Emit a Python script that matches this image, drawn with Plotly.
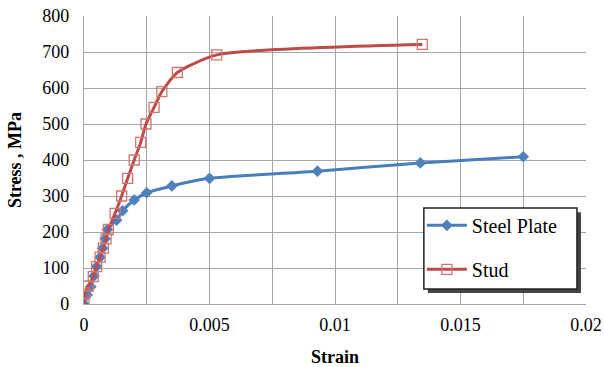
import plotly.graph_objects as go

plate_strain = [0, 0.00013, 0.00027, 0.0004, 0.0005, 0.00064, 0.00074, 0.00084, 0.00093,
                0.0013, 0.00154, 0.002, 0.0025, 0.0035, 0.005, 0.0093, 0.0134, 0.0175]
plate_stress = [0, 25, 48, 78, 104, 130, 155, 181, 207, 233, 259, 289, 309, 328, 349, 369, 392, 409]

stud_strain = [0, 0.00004, 0.00017, 0.00037, 0.0005, 0.00064, 0.00077, 0.00088, 0.00097,
               0.00124, 0.0015, 0.00174, 0.002, 0.00226, 0.00247, 0.00279, 0.0031, 0.00372,
               0.00529, 0.01348]
stud_stress = [0, 30, 50, 76, 104, 130, 155, 181, 207, 252, 300, 349, 400, 449, 500, 546,
               590, 643, 692, 721]

x_ticks = [0, 0.005, 0.01, 0.015, 0.02]
x_labels = ["0", "0.005", "0.01", "0.015", "0.02"]

font = "'Liberation Serif', 'Times New Roman', serif"
blue = "#4a7ebb"
red = "#be4b48"

fig = go.Figure()
fig.add_trace(go.Scatter(
    x=plate_strain, y=plate_stress, name="Steel Plate", mode="lines+markers",
    line=dict(color=blue, width=3, shape="spline", smoothing=0.6),
    marker=dict(symbol="diamond", size=9, color="#4f81bd"),
    legendgroup="a"))
fig.add_trace(go.Scatter(
    x=stud_strain, y=stud_stress, name="Stud", mode="lines+markers",
    line=dict(color=red, width=3, shape="spline", smoothing=0.6),
    marker=dict(symbol="square-open", size=10, color="#d07572", line=dict(width=1.3)),
    legendgroup="b"))

grid = "#a6a6a6"
fig.update_layout(
    width=604, height=367,
    margin=dict(l=84, r=18, t=16, b=63),
    paper_bgcolor="white", plot_bgcolor="white",
    font=dict(family=font, size=18, color="black"),
    showlegend=True,
    legend=dict(x=0.673, y=0.341, xanchor="left", yanchor="top",
                bgcolor="rgba(0,0,0,0)", borderwidth=0,
                font=dict(family=font, size=20), tracegroupgap=15,
                traceorder="grouped", itemwidth=40),
    xaxis=dict(range=[0, 0.02], tickvals=x_ticks, ticktext=x_labels, automargin=False,
               showgrid=True, gridcolor=grid, gridwidth=1.3,
               minor=dict(dtick=0.0025, tick0=0, showgrid=True, gridcolor=grid, gridwidth=1.3),
               showline=True, linecolor=grid, linewidth=1.3, ticks="", zeroline=False,
               ticklabelstandoff=4,
               title=dict(text="<b>Strain</b>", font=dict(family=font, size=18), standoff=16),
               tickfont=dict(family=font, size=18)),
    yaxis=dict(range=[0, 800], dtick=100, automargin=False,
               showgrid=True, gridcolor=grid, gridwidth=1.3,
               showline=True, linecolor=grid, linewidth=1.3, ticks="", zeroline=False,
               ticklabelstandoff=10,
               title=dict(text="<b>Stress , MPa</b>", font=dict(family=font, size=18), standoff=15),
               tickfont=dict(family=font, size=18)),
)
# legend shadow and box
fig.add_shape(type="rect", xref="paper", yref="paper",
              x0=0.685, x1=0.990, y0=0.038, y1=0.319,
              fillcolor="#444", line=dict(width=0), layer="above")
fig.add_shape(type="rect", xref="paper", yref="paper",
              x0=0.677, x1=0.982, y0=0.052, y1=0.333,
              fillcolor="white", line=dict(width=1.5, color="#222"), layer="above")

fig.write_html("out.html")
